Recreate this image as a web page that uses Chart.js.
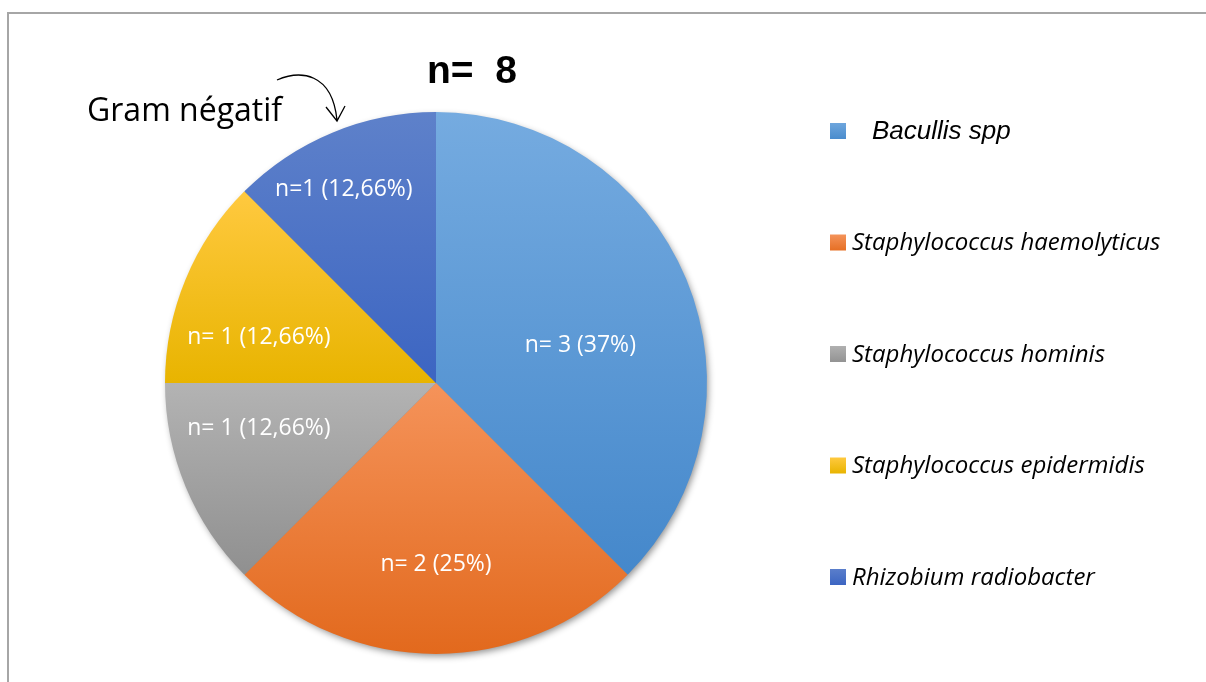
<!DOCTYPE html>
<html>
<head>
<meta charset="utf-8">
<script src="https://cdn.jsdelivr.net/npm/chart.js@4"></script>
<style>
  html, body { margin: 0; padding: 0; background: #fff; }
  #wrap { position: relative; width: 1206px; height: 682px; }
</style>
</head>
<body>
<div id="wrap"><canvas id="pie" width="1206" height="682"></canvas></div>
<script>
// données
const categories = ['Bacullis spp', 'Staphylococcus haemolyticus', 'Staphylococcus hominis', 'Staphylococcus epidermidis', 'Rhizobium radiobacter'];
const counts = [3, 2, 1, 1, 1];
const sliceLabels = ['n= 3 (37%)', 'n= 2 (25%)', 'n= 1 (12,66%)', 'n= 1 (12,66%)', 'n=1 (12,66%)'];
const totalLabel = 'n=  8';
const noteLabel = 'Gram négatif';

// styles (dégradés façon Office, du haut vers le bas du camembert)
const sliceStops = [
    [[0, '#75abe0'], [0.85, '#4588cb']],
    [[0.5, '#f5935a'], [1, '#e2691d']],
    [[0.5, '#b3b3b3'], [0.85, '#909090']],
    [[0.15, '#ffc93f'], [0.5, '#e8b400']],
    [[0, '#5e81ca'], [0.5, '#3c65c2']]
];
const legendSwatch = [
    ['#6ea6dd', '#4a8ccd'],
    ['#f4935a', '#e66f24'],
    ['#b0b0b0', '#939393'],
    ['#ffc93f', '#e8b400'],
    ['#5a7ecb', '#3c65c2']
];
const labelShift = [8, 0, 8, -8, -3];       // degrés
const labelRadius = [0.55, 0.67, 0.675, 0.675, 0.79];

function sliceColor(ctx) {
    const chart = ctx.chart;
    const area = chart.chartArea;
    const stops = sliceStops[ctx.dataIndex];
    if (!area) return stops[0][1];
    const g = chart.ctx.createLinearGradient(0, area.top, 0, area.bottom);
    stops.forEach(s => g.addColorStop(s[0], s[1]));
    return g;
}

const decor = {
    id: 'decor',
    beforeDraw(chart) {
        const c = chart.ctx;
        c.save();
        c.fillStyle = '#fff';
        c.fillRect(0, 0, chart.width, chart.height);
        c.strokeStyle = '#a6a6a6';
        c.lineWidth = 2;
        c.beginPath();
        c.moveTo(8, chart.height + 5);
        c.lineTo(8, 13);
        c.lineTo(chart.width + 5, 13);
        c.stroke();
        c.restore();
    },
    beforeDatasetsDraw(chart) {
        // ombre portée sous le camembert
        const arc = chart.getDatasetMeta(0).data[0];
        if (!arc) return;
        const c = chart.ctx;
        c.save();
        c.shadowColor = 'rgba(0,0,0,0.45)';
        c.shadowBlur = 7;
        c.shadowOffsetX = 2;
        c.shadowOffsetY = 3;
        c.fillStyle = '#888';
        c.beginPath();
        c.arc(arc.x, arc.y, arc.outerRadius - 1, 0, Math.PI * 2);
        c.fill();
        c.restore();
    },
    afterDatasetsDraw(chart) {
        const c = chart.ctx;
        c.save();
        c.fillStyle = '#fff';
        c.font = '23px "Open Sans"';
        c.textAlign = 'center';
        c.textBaseline = 'middle';
        chart.getDatasetMeta(0).data.forEach((arc, i) => {
            const mid = (arc.startAngle + arc.endAngle) / 2 + labelShift[i] * Math.PI / 180;
            const r = arc.outerRadius * labelRadius[i];
            c.fillText(sliceLabels[i], arc.x + Math.cos(mid) * r, arc.y + Math.sin(mid) * r);
        });
        c.restore();
    },
    afterDraw(chart) {
        const c = chart.ctx;
        c.save();
        // titre
        c.fillStyle = '#000';
        c.font = 'bold 39px "Liberation Sans", Arial';
        c.textAlign = 'center';
        c.textBaseline = 'alphabetic';
        c.fillText(totalLabel, 472, 83);

        // annotation + flèche
        c.font = '32px "Open Sans"';
        c.textAlign = 'left';
        c.fillText(noteLabel, 87, 121);
        c.strokeStyle = '#000';
        c.lineWidth = 1.3;
        c.beginPath();
        c.moveTo(277, 80);
        c.bezierCurveTo(300, 70, 332, 72, 337, 120);
        c.moveTo(326, 107);
        c.lineTo(337, 121);
        c.lineTo(345, 106);
        c.stroke();

        // légende
        const ys = [131, 242.5, 354, 465.5, 577];
        categories.forEach((name, i) => {
            const y = ys[i];
            const g = c.createLinearGradient(0, y - 8, 0, y + 8);
            g.addColorStop(0, legendSwatch[i][0]);
            g.addColorStop(1, legendSwatch[i][1]);
            c.fillStyle = g;
            c.fillRect(830, y - 8, 16, 16);
            c.fillStyle = '#000';
            c.textBaseline = 'middle';
            if (i === 0) {
                c.font = 'italic 26px "Liberation Sans", Arial';
                c.fillText(name, 872, y + 1);
            } else {
                c.font = 'italic 24px "Open Sans"';
                c.fillText(name, 852, y + 1);
            }
        });
        c.restore();
    }
};

new Chart(document.getElementById('pie'), {
    type: 'pie',
    data: {
        labels: categories,
        datasets: [{
            data: counts,
            backgroundColor: sliceColor,
            borderWidth: 0,
            hoverOffset: 0
        }]
    },
    options: {
        responsive: false,
        animation: false,
        events: [],
        layout: { padding: { left: 164, right: 498, top: 112, bottom: 28 } },
        plugins: {
            legend: { display: false },
            tooltip: { enabled: false },
            title: { display: false }
        }
    },
    plugins: [decor]
});
</script>
</body>
</html>
